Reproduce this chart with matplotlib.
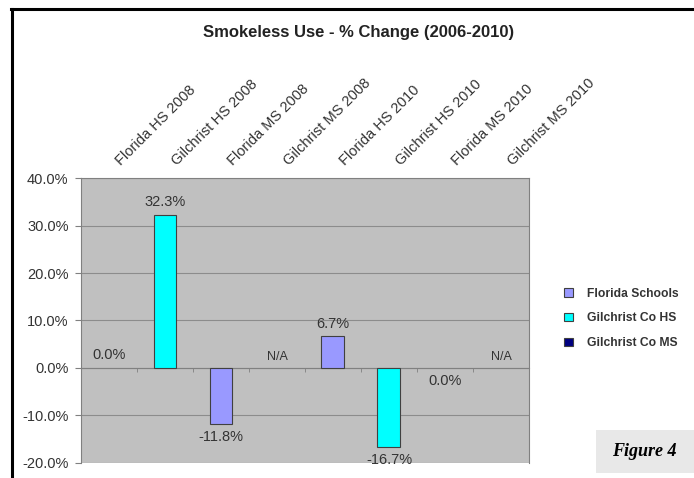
import numpy as np
import matplotlib.pyplot as plt
from matplotlib.lines import Line2D
from matplotlib.patches import Patch, Rectangle
from matplotlib.ticker import FuncFormatter
from matplotlib.transforms import ScaledTranslation

plt.rcParams['font.family'] = ['Liberation Sans', 'DejaVu Sans']

# categorias del eje x
categorias = ['Florida HS 2008', 'Gilchrist HS 2008', 'Florida MS 2008', 'Gilchrist MS 2008',
              'Florida HS 2010', 'Gilchrist HS 2010', 'Florida MS 2010', 'Gilchrist MS 2010']
# cambio porcentual (nan = sin dato); -0.0 lleva la etiqueta debajo de la linea
cambio = [0.0, 32.3, -11.8, np.nan, 6.7, -16.7, -0.0, np.nan]
# serie a la que pertenece cada categoria
serie = [0, 1, 0, 2, 0, 1, 0, 2]

series_nombres = ['Florida Schools', 'Gilchrist Co HS', 'Gilchrist Co MS']
series_colores = ['#9999FF', '#00FFFF', '#000080']

gris_texto = '#333333'


def main():
  fig = plt.figure(figsize=(6.94, 4.78), dpi=100)
  ax = fig.add_axes([0.1167, 0.0314, 0.6455, 0.5962])
  ax.set_facecolor('#C0C0C0')

  x = np.arange(len(categorias))
  arriba_na = ax.transData + ScaledTranslation(0, 8/72, fig.dpi_scale_trans)
  for xi, v, s in zip(x, cambio, serie):
    if np.isnan(v):
      ax.text(xi, 0, 'N/A', ha='center', va='center', fontsize=9, color=gris_texto, transform=arriba_na)
      continue
    if v != 0:
      ax.bar(xi, v, width=0.41, color=series_colores[s], edgecolor='#404040', linewidth=0.8, zorder=3)
    debajo = np.signbit(v)
    ax.annotate(f'{v + 0.0:.1f}%', (xi, v), xytext=(0, -4 if debajo else 4), textcoords='offset points',
                ha='center', va='top' if debajo else 'bottom', fontsize=10.5, color=gris_texto)

  ax.set_xlim(-0.5, len(categorias) - 0.5)
  ax.set_ylim(-20, 40)
  ax.set_yticks(np.arange(-20, 41, 10))
  ax.yaxis.set_major_formatter(FuncFormatter(lambda v, p: f'{v:.1f}%'))
  ax.grid(axis='y', color='#8C8C8C', linewidth=0.8, zorder=0)
  ax.set_axisbelow(True)

  # eje de categorias cruzando en cero, etiquetas arriba
  ax.spines['bottom'].set_position(('data', 0))
  for lado in ['left', 'right', 'top', 'bottom']:
    ax.spines[lado].set_color('#808080')
    ax.spines[lado].set_linewidth(0.8)
  ax.set_xticks(x)
  ax.set_xticks(x[:-1] + 0.5, minor=True)
  ax.tick_params(axis='x', which='major', bottom=False, top=False, labelbottom=False, labeltop=True,
                 labelsize=10.5, labelcolor=gris_texto, pad=7)
  ax.tick_params(axis='x', which='minor', bottom=True, length=3, color='#808080')
  ax.set_xticklabels(categorias, rotation=45, ha='left', va='center', rotation_mode='anchor')
  desplazamiento = ScaledTranslation(0.09, 0, fig.dpi_scale_trans)
  for etiqueta in ax.get_xticklabels():
    etiqueta.set_transform(etiqueta.get_transform() + desplazamiento)
  ax.tick_params(axis='y', length=4, color='#808080', labelsize=10.5, labelcolor=gris_texto, pad=5)

  fig.suptitle('Smokeless Use - % Change (2006-2010)', x=0.516, y=0.931, fontsize=12,
               fontweight='bold', color='#222222', va='center')

  manejadores = [Patch(facecolor=c, edgecolor='#404040', linewidth=0.8) for c in series_colores]
  leg = fig.legend(manejadores, series_nombres, loc='center left', bbox_to_anchor=(0.797, 0.334),
                   frameon=False, handlelength=0.7, handleheight=0.7, handletextpad=1.2,
                   labelspacing=1.05, prop={'size': 8.75, 'weight': 'bold'})
  for t in leg.get_texts():
    t.set_color(gris_texto)

  # marco de la pagina
  fig.add_artist(Line2D([0.0158, 1.0], [0.981, 0.981], color='black', linewidth=2.2))
  fig.add_artist(Line2D([0.0172, 0.0172], [0.0, 0.981], color='black', linewidth=2.2))

  # recuadro "Figure 4"
  fig.add_artist(Rectangle((0.859, 0.010), 0.141, 0.090, transform=fig.transFigure,
                           facecolor='#E8E8E8', edgecolor='none'))
  fig.text(0.929, 0.056, 'Figure 4', ha='center', va='center', fontsize=13, fontweight='bold',
           fontstyle='italic', family=['Liberation Serif', 'DejaVu Serif'], color='black')

  fig.savefig('out.png', dpi=100)


if __name__ == '__main__':
  main()
